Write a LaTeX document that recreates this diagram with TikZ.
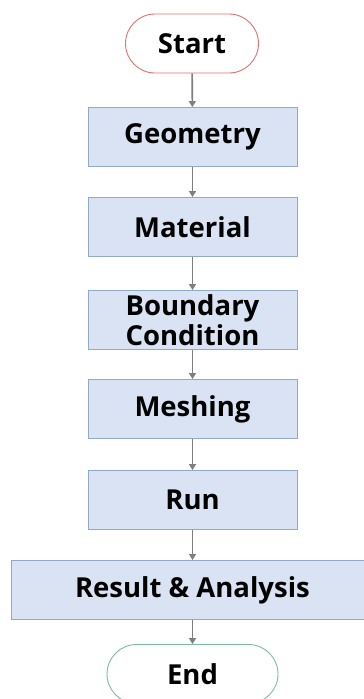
\documentclass[tikz,border=0pt]{standalone}
\usepackage{fontspec}
\setmainfont{Open Sans}
\usetikzlibrary{arrows.meta,shapes.misc}
\definecolor{boxfill}{HTML}{DAE3F3}
\definecolor{boxline}{HTML}{8FAACC}
\definecolor{startline}{HTML}{E07070}
\definecolor{endline}{HTML}{7DBE9A}
\definecolor{arrowgray}{HTML}{7F7F7F}
\begin{document}
\begin{tikzpicture}[x=1pt,y=-1pt,
  stepbox/.style={draw=boxline, fill=boxfill, line width=0.9pt, minimum width=209pt, minimum height=59pt, inner sep=0pt, align=center, font=\bfseries\fontsize{27.5}{30}\selectfont},
  term/.style={draw=#1, fill=white, rounded rectangle, line width=0.9pt, minimum width=133pt, minimum height=59pt, inner sep=0pt, font=\bfseries\fontsize{27.5}{30}\selectfont},
  conn/.style={draw=arrowgray, line width=1.6pt, -{Triangle[length=6pt,width=7pt]}}]
\useasboundingbox (0,0) rectangle (364,699);
\clip (0,0) rectangle (364,699);
\node[term=startline] (start) at (192,43.5) {Start};
\node[stepbox] (geo) at (192.5,137) {Geometry};
\node[stepbox] (mat) at (192.5,227) {Material};
\node[stepbox] (bc) at (192.5,320) {Boundary\\Condition};
\node[stepbox] (mesh) at (192.5,409) {Meshing};
\node[stepbox] (run) at (192.5,500) {Run};
\node[stepbox, minimum width=362pt] (res) at (192.5,590) {Result \& Analysis};
\node[term=endline, minimum width=171pt] (end) at (192.5,674) {End};
\draw[conn] (start) -- (geo);
\draw[conn] (geo) -- (mat);
\draw[conn] (mat) -- (bc);
\draw[conn] (bc) -- (mesh);
\draw[conn] (mesh) -- (run);
\draw[conn] (run) -- (res);
\draw[conn] (res) -- (end);
\end{tikzpicture}
\end{document}
